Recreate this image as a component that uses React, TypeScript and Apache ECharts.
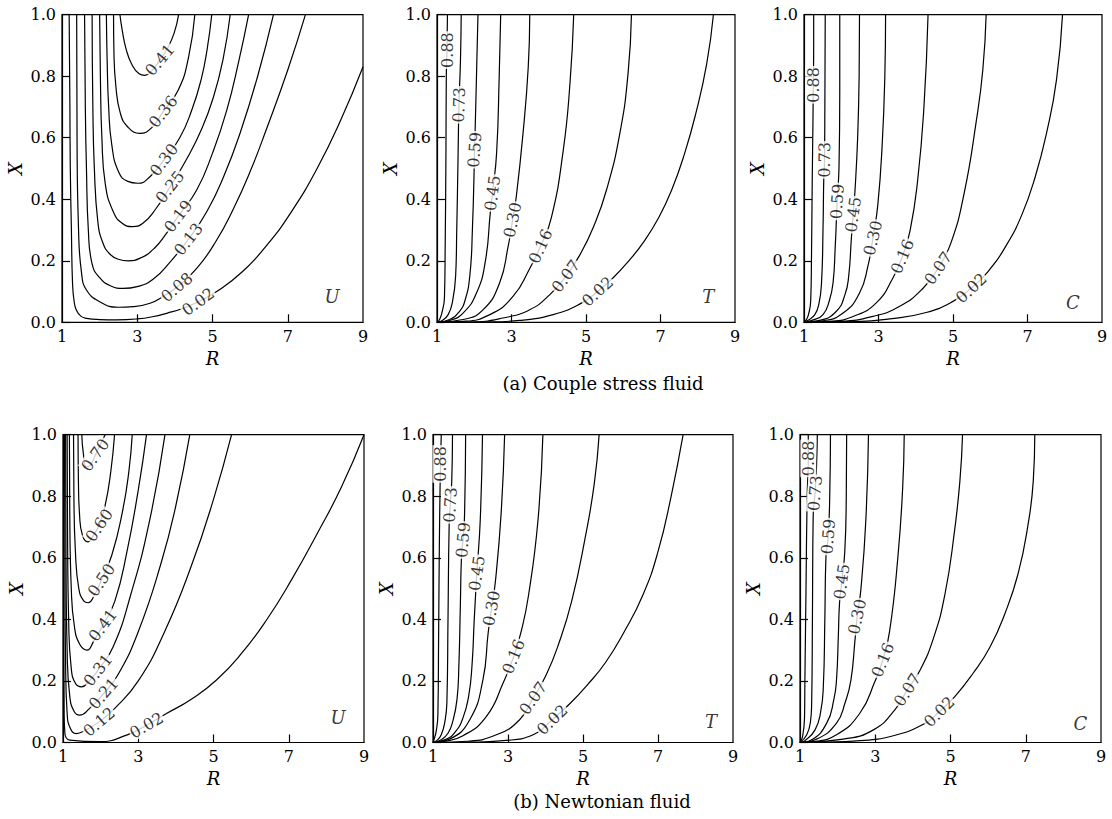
import React, { useEffect, useRef } from "react";
import * as echarts from "echarts";

const FONT = '"DejaVu Serif", "Liberation Serif", serif';

const xTickValues = [1, 3, 5, 7, 9];
const xInnerTicks = [3, 5, 7];
const yTickInterval = 0.2;

// ---------- (a) Couple stress fluid : U ----------
const aULevels = ["0.41", "0.36", "0.30", "0.25", "0.19", "0.13", "0.08", "0.02"];
const aUCurves: number[][][] = [
  [[2.54, 1.0], [2.6, 0.95], [2.7, 0.89], [2.85, 0.84], [3.05, 0.808], [3.2, 0.803], [3.4, 0.82], [3.6, 0.853], [3.8, 0.89], [3.98, 0.94], [4.1, 1.0]],
  [[2.37, 1.0], [2.38, 0.88], [2.43, 0.77], [2.55, 0.68], [2.75, 0.635], [3.07, 0.614], [3.38, 0.632], [3.69, 0.685], [4.09, 0.755], [4.36, 0.86], [4.53, 1.0]],
  [[2.18, 1.0], [2.2, 0.85], [2.24, 0.7], [2.32, 0.58], [2.5, 0.49], [2.75, 0.458], [3.02, 0.452], [3.35, 0.475], [3.71, 0.528], [4.13, 0.6], [4.45, 0.69], [4.7, 0.79], [4.86, 0.89], [4.98, 1.0]],
  [[2.0, 1.0], [2.02, 0.8], [2.06, 0.6], [2.15, 0.45], [2.36, 0.36], [2.6, 0.322], [2.87, 0.311], [3.15, 0.322], [3.5, 0.37], [3.87, 0.44], [4.31, 0.53], [4.7, 0.625], [5.02, 0.73], [5.28, 0.855], [5.47, 1.0]],
  [[1.8, 1.0], [1.82, 0.7], [1.86, 0.5], [1.95, 0.33], [2.08, 0.26], [2.27, 0.222], [2.5, 0.205], [2.76, 0.2], [3.1, 0.21], [3.45, 0.24], [3.78, 0.29], [4.09, 0.345], [4.58, 0.43], [5.0, 0.55], [5.38, 0.69], [5.7, 0.85], [5.96, 1.0]],
  [[1.6, 1.0], [1.62, 0.7], [1.65, 0.5], [1.7, 0.3], [1.8, 0.19], [2.0, 0.145], [2.3, 0.118], [2.63, 0.11], [3.0, 0.116], [3.42, 0.14], [3.9, 0.2], [4.36, 0.27], [4.85, 0.36], [5.3, 0.475], [5.73, 0.614], [6.2, 0.8], [6.62, 1.0]],
  [[1.39, 1.0], [1.4, 0.6], [1.44, 0.3], [1.52, 0.16], [1.65, 0.105], [2.0, 0.067], [2.49, 0.049], [2.9, 0.051], [3.34, 0.062], [3.7, 0.085], [4.05, 0.114], [4.58, 0.175], [5.1, 0.265], [5.56, 0.37], [6.0, 0.49], [6.44, 0.63], [7.0, 0.82], [7.47, 1.0]],
  [[1.19, 1.0], [1.21, 0.7], [1.22, 0.506], [1.25, 0.3], [1.28, 0.127], [1.32, 0.07], [1.38, 0.04], [1.5, 0.02], [1.65, 0.013], [2.0, 0.009], [2.45, 0.008], [3.0, 0.011], [3.4, 0.018], [3.8, 0.03], [4.2, 0.045], [4.62, 0.067], [5.11, 0.1], [5.8, 0.165], [6.44, 0.25], [7.1, 0.36], [7.78, 0.5], [8.4, 0.655], [9.0, 0.831]],
];
const aULabelAt = [[3.6, 0.853], [3.69, 0.685], [3.71, 0.528], [3.87, 0.44], [4.09, 0.345], [4.36, 0.27], [4.05, 0.114], [4.62, 0.067]];
const aULabelAngle = [50, 52, 53, 52, 53, 52, 40, 36];

// ---------- (a) Couple stress fluid : T ----------
const aTLevels = ["0.88", "0.73", "0.59", "0.45", "0.30", "0.16", "0.07", "0.02"];
const aTCurves: number[][][] = [
  [[1.0, 0.0], [1.07, 0.009], [1.14, 0.035], [1.2, 0.08], [1.22, 0.25], [1.24, 0.55], [1.25, 0.8], [1.27, 0.9], [1.28, 1.0]],
  [[1.0, 0.0], [1.12, 0.004], [1.3, 0.025], [1.42, 0.07], [1.5, 0.15], [1.53, 0.3], [1.56, 0.5], [1.59, 0.707], [1.63, 0.85], [1.65, 1.0]],
  [[1.0, 0.0], [1.34, 0.009], [1.6, 0.035], [1.75, 0.07], [1.88, 0.15], [1.95, 0.3], [2.01, 0.561], [2.06, 0.8], [2.1, 1.0]],
  [[1.0, 0.0], [1.34, 0.006], [1.7, 0.03], [2.06, 0.095], [2.3, 0.2], [2.43, 0.355], [2.49, 0.42], [2.6, 0.55], [2.67, 0.8], [2.71, 1.0]],
  [[1.0, 0.0], [1.7, 0.009], [2.24, 0.041], [2.68, 0.128], [2.91, 0.247], [3.03, 0.333], [3.13, 0.41], [3.31, 0.615], [3.45, 0.831], [3.49, 1.0]],
  [[1.0, 0.0], [1.7, 0.003], [2.42, 0.025], [3.04, 0.084], [3.49, 0.175], [3.78, 0.247], [4.07, 0.34], [4.39, 0.56], [4.57, 0.777], [4.67, 1.0]],
  [[1.0, 0.0], [1.88, 0.001], [2.77, 0.014], [3.49, 0.041], [4.03, 0.09], [4.46, 0.15], [4.84, 0.22], [5.2, 0.31], [5.55, 0.43], [5.91, 0.615], [6.13, 0.81], [6.22, 1.0]],
  [[1.0, 0.0], [2.33, 0.001], [3.22, 0.006], [4.12, 0.025], [4.84, 0.06], [5.31, 0.1], [5.73, 0.145], [6.15, 0.2], [6.54, 0.26], [6.95, 0.34], [7.3, 0.43], [7.65, 0.55], [7.95, 0.68], [8.24, 0.84], [8.42, 1.0]],
];
const aTLabelAt = [[1.27, 0.885], [1.59, 0.707], [2.01, 0.561], [2.49, 0.42], [3.03, 0.333], [3.78, 0.247], [4.46, 0.15], [5.31, 0.1]];
const aTLabelAngle = [90, 88, 86, 82, 78, 66, 53, 42];

// ---------- (a) Couple stress fluid : C ----------
const aCLevels = ["0.88", "0.73", "0.59", "0.45", "0.30", "0.16", "0.07", "0.02"];
const aCCurves: number[][][] = [
  [[1.0, 0.0], [1.06, 0.008], [1.12, 0.025], [1.18, 0.07], [1.2, 0.2], [1.22, 0.45], [1.24, 0.65], [1.25, 0.772], [1.26, 0.9], [1.26, 1.0]],
  [[1.0, 0.0], [1.1, 0.006], [1.29, 0.025], [1.4, 0.06], [1.47, 0.128], [1.51, 0.3], [1.53, 0.463], [1.55, 0.528], [1.56, 0.7], [1.57, 1.0]],
  [[1.0, 0.0], [1.25, 0.008], [1.51, 0.025], [1.68, 0.07], [1.78, 0.128], [1.84, 0.25], [1.87, 0.333], [1.89, 0.393], [1.94, 0.506], [1.96, 0.75], [1.96, 1.0]],
  [[1.0, 0.0], [1.42, 0.006], [1.87, 0.036], [2.1, 0.09], [2.2, 0.15], [2.27, 0.27], [2.32, 0.35], [2.37, 0.43], [2.44, 0.6], [2.48, 0.8], [2.49, 1.0]],
  [[1.0, 0.0], [1.51, 0.005], [2.05, 0.03], [2.49, 0.095], [2.72, 0.185], [2.85, 0.274], [2.98, 0.38], [3.1, 0.58], [3.17, 0.8], [3.19, 1.0]],
  [[1.0, 0.0], [1.69, 0.003], [2.32, 0.019], [2.94, 0.063], [3.39, 0.145], [3.64, 0.214], [3.85, 0.3], [4.05, 0.46], [4.22, 0.7], [4.33, 1.0]],
  [[1.0, 0.0], [1.96, 0.003], [2.85, 0.019], [3.57, 0.052], [4.19, 0.11], [4.6, 0.176], [4.95, 0.26], [5.3, 0.42], [5.62, 0.65], [5.8, 0.82], [5.89, 1.0]],
  [[1.0, 0.0], [2.4, 0.002], [3.3, 0.011], [4.28, 0.032], [5.0, 0.068], [5.49, 0.111], [5.94, 0.165], [6.43, 0.25], [6.85, 0.35], [7.2, 0.47], [7.52, 0.62], [7.78, 0.79], [7.94, 1.0]],
];
const aCLabelAt = [[1.25, 0.772], [1.55, 0.528], [1.89, 0.393], [2.32, 0.35], [2.85, 0.274], [3.64, 0.214], [4.6, 0.176], [5.49, 0.111]];
const aCLabelAngle = [90, 89, 86, 82, 76, 67, 55, 43];

// ---------- (b) Newtonian fluid : U ----------
const bULevels = ["0.70", "0.60", "0.50", "0.41", "0.31", "0.21", "0.12", "0.02"];
const bUCurves: number[][][] = [
  [[1.5, 1.0], [1.54, 0.94], [1.62, 0.895], [1.72, 0.9], [1.86, 0.934], [2.02, 0.975], [2.12, 1.0]],
  [[1.4, 1.0], [1.41, 0.85], [1.44, 0.74], [1.52, 0.672], [1.66, 0.652], [1.8, 0.672], [1.96, 0.706], [2.12, 0.77], [2.27, 0.88], [2.37, 1.0]],
  [[1.28, 1.0], [1.29, 0.8], [1.33, 0.62], [1.42, 0.5], [1.55, 0.46], [1.67, 0.454], [1.82, 0.475], [2.02, 0.528], [2.3, 0.61], [2.58, 0.75], [2.75, 0.88], [2.84, 1.0]],
  [[1.17, 1.0], [1.18, 0.75], [1.22, 0.5], [1.3, 0.38], [1.44, 0.32], [1.64, 0.3], [1.82, 0.33], [2.06, 0.381], [2.38, 0.46], [2.7, 0.62], [3.0, 0.82], [3.22, 1.0]],
  [[1.11, 1.0], [1.12, 0.7], [1.15, 0.4], [1.22, 0.24], [1.34, 0.19], [1.49, 0.181], [1.7, 0.2], [1.93, 0.235], [2.33, 0.31], [2.8, 0.48], [3.3, 0.72], [3.71, 1.0]],
  [[1.07, 1.0], [1.08, 0.6], [1.11, 0.3], [1.18, 0.15], [1.3, 0.1], [1.44, 0.089], [1.7, 0.11], [2.08, 0.159], [2.46, 0.22], [3.0, 0.36], [3.6, 0.58], [4.0, 0.77], [4.37, 1.0]],
  [[1.04, 1.0], [1.05, 0.6], [1.07, 0.25], [1.11, 0.094], [1.2, 0.045], [1.35, 0.029], [1.6, 0.04], [1.96, 0.067], [2.37, 0.11], [3.0, 0.2], [3.7, 0.36], [4.4, 0.57], [5.0, 0.79], [5.48, 1.0]],
  [[1.015, 1.0], [1.02, 0.5], [1.03, 0.1], [1.05, 0.03], [1.18, 0.008], [1.98, 0.003], [2.69, 0.024], [3.22, 0.056], [3.75, 0.094], [4.4, 0.14], [5.08, 0.203], [5.75, 0.29], [6.41, 0.398], [7.08, 0.53], [7.74, 0.675], [8.4, 0.83], [9.0, 1.0]],
];
const bULabelAt = [[1.86, 0.934], [1.96, 0.706], [2.02, 0.528], [2.06, 0.381], [1.93, 0.235], [2.08, 0.159], [1.96, 0.067], [3.22, 0.056]];
const bULabelAngle = [54, 56, 56, 53, 52, 49, 40, 30];

// ---------- (b) Newtonian fluid : T ----------
const bTLevels = ["0.88", "0.73", "0.59", "0.45", "0.30", "0.16", "0.07", "0.02"];
const bTCurves: number[][][] = [
  [[1.0, 0.0], [1.04, 0.014], [1.09, 0.04], [1.13, 0.09], [1.15, 0.35], [1.17, 0.65], [1.19, 0.84], [1.2, 0.905], [1.22, 1.0]],
  [[1.0, 0.0], [1.1, 0.006], [1.22, 0.025], [1.32, 0.07], [1.37, 0.128], [1.4, 0.4], [1.43, 0.7], [1.46, 0.772], [1.5, 0.85], [1.52, 1.0]],
  [[1.0, 0.0], [1.22, 0.009], [1.4, 0.03], [1.53, 0.07], [1.64, 0.14], [1.69, 0.25], [1.73, 0.45], [1.76, 0.604], [1.8, 0.658], [1.84, 0.734], [1.87, 1.0]],
  [[1.0, 0.0], [1.36, 0.011], [1.6, 0.035], [1.8, 0.08], [1.95, 0.15], [2.04, 0.25], [2.1, 0.4], [2.17, 0.55], [2.26, 0.723], [2.32, 1.0]],
  [[1.0, 0.0], [1.44, 0.011], [1.98, 0.074], [2.33, 0.203], [2.47, 0.355], [2.56, 0.436], [2.67, 0.53], [2.82, 0.75], [2.91, 1.0]],
  [[1.0, 0.0], [1.27, 0.003], [1.8, 0.022], [2.42, 0.084], [2.87, 0.193], [3.15, 0.279], [3.35, 0.36], [3.55, 0.48], [3.8, 0.723], [3.93, 1.0]],
  [[1.0, 0.0], [1.89, 0.004], [2.69, 0.025], [3.31, 0.074], [3.67, 0.144], [4.02, 0.22], [4.35, 0.32], [4.7, 0.46], [5.05, 0.66], [5.3, 0.84], [5.43, 1.0]],
  [[1.0, 0.0], [1.98, 0.001], [2.87, 0.006], [3.67, 0.025], [4.18, 0.074], [4.64, 0.125], [5.1, 0.185], [5.6, 0.26], [6.1, 0.36], [6.6, 0.48], [7.0, 0.62], [7.35, 0.8], [7.67, 1.0]],
];
const bTLabelAt = [[1.2, 0.905], [1.46, 0.772], [1.8, 0.658], [2.17, 0.55], [2.56, 0.436], [3.15, 0.279], [3.67, 0.144], [4.18, 0.074]];
const bTLabelAngle = [90, 86, 85, 82, 80, 68, 55, 44];

// ---------- (b) Newtonian fluid : C ----------
const bCLevels = ["0.88", "0.73", "0.59", "0.45", "0.30", "0.16", "0.07", "0.02"];
const bCCurves: number[][][] = [
  [[1.0, 0.0], [1.07, 0.02], [1.12, 0.08], [1.13, 0.2], [1.16, 0.5], [1.19, 0.8], [1.22, 0.923], [1.22, 1.0]],
  [[1.0, 0.0], [1.18, 0.025], [1.28, 0.07], [1.31, 0.128], [1.33, 0.4], [1.35, 0.734], [1.4, 0.81], [1.44, 0.9], [1.46, 1.0]],
  [[1.0, 0.0], [1.13, 0.006], [1.4, 0.041], [1.55, 0.1], [1.62, 0.182], [1.66, 0.4], [1.69, 0.604], [1.75, 0.669], [1.79, 0.8], [1.81, 1.0]],
  [[1.0, 0.0], [1.31, 0.009], [1.71, 0.063], [1.9, 0.14], [1.97, 0.203], [2.02, 0.35], [2.05, 0.452], [2.11, 0.523], [2.19, 0.62], [2.23, 0.8], [2.24, 1.0]],
  [[1.0, 0.0], [1.44, 0.011], [1.97, 0.063], [2.2, 0.13], [2.35, 0.2], [2.46, 0.33], [2.52, 0.409], [2.62, 0.5], [2.75, 0.723], [2.82, 1.0]],
  [[1.0, 0.0], [1.35, 0.003], [1.97, 0.025], [2.59, 0.095], [2.99, 0.198], [3.2, 0.268], [3.38, 0.36], [3.6, 0.6], [3.73, 0.831], [3.77, 1.0]],
  [[1.0, 0.0], [2.15, 0.011], [2.95, 0.041], [3.52, 0.106], [3.85, 0.171], [4.19, 0.235], [4.55, 0.34], [4.85, 0.48], [5.1, 0.68], [5.25, 0.85], [5.32, 1.0]],
  [[1.0, 0.0], [1.62, 0.001], [2.51, 0.005], [3.48, 0.022], [4.32, 0.062], [4.7, 0.1], [5.12, 0.15], [5.6, 0.225], [6.05, 0.31], [6.45, 0.42], [6.8, 0.55], [7.05, 0.7], [7.2, 0.85], [7.24, 1.0]],
];
const bCLabelAt = [[1.22, 0.923], [1.4, 0.81], [1.75, 0.669], [2.11, 0.523], [2.52, 0.409], [3.2, 0.268], [3.85, 0.171], [4.7, 0.1]];
const bCLabelAngle = [90, 85, 85, 82, 78, 68, 57, 45];

// panel letters and where they sit (data space)
const panelLetters = ["U", "T", "C", "U", "T", "C"];
const letterAt = [[8.18, 0.083], [8.28, 0.083], [8.22, 0.065], [8.31, 0.08], [8.41, 0.067], [8.45, 0.063]];

const captions = ["(a) Couple stress fluid", "(b) Newtonian fluid"];

// layout (pixels)
const gridRects = [
  { left: 62, top: 14.7, width: 301, height: 307.6 },
  { left: 437, top: 14.7, width: 298, height: 307.6 },
  { left: 804, top: 14.7, width: 298, height: 307.6 },
  { left: 63, top: 434.7, width: 301, height: 307.8 },
  { left: 433, top: 434.7, width: 300, height: 307.8 },
  { left: 800, top: 434.7, width: 301, height: 307.8 },
];
const captionPos = [
  [603, 383],
  [602, 801],
];

const panels = [
  { levels: aULevels, curves: aUCurves, labelAt: aULabelAt, angles: aULabelAngle },
  { levels: aTLevels, curves: aTCurves, labelAt: aTLabelAt, angles: aTLabelAngle },
  { levels: aCLevels, curves: aCCurves, labelAt: aCLabelAt, angles: aCLabelAngle },
  { levels: bULevels, curves: bUCurves, labelAt: bULabelAt, angles: bULabelAngle },
  { levels: bTLevels, curves: bTCurves, labelAt: bTLabelAt, angles: bTLabelAngle },
  { levels: bCLevels, curves: bCCurves, labelAt: bCLabelAt, angles: bCLabelAngle },
];

function buildOption() {
  const grid = gridRects.map((g) => ({
    ...g,
    show: true,
    borderColor: "#000",
    borderWidth: 1.2,
    backgroundColor: "#fff",
    containLabel: false,
    outerBoundsMode: "none",
  }));
  const axisLineStyle = { color: "#000", width: 1.2 };
  const xAxis = gridRects.map((_, i) => ({
    gridIndex: i,
    type: "value",
    min: 1,
    max: 9,
    name: "R",
    nameLocation: "middle",
    nameGap: 27,
    nameTextStyle: { fontFamily: FONT, fontStyle: "italic", fontSize: 18, color: "#000" },
    axisLine: { show: true, onZero: false, lineStyle: axisLineStyle },
    axisTick: { show: true, inside: true, length: 8, customValues: xInnerTicks, lineStyle: axisLineStyle },
    axisLabel: {
      customValues: xTickValues,
      fontFamily: FONT,
      fontSize: 16,
      color: "#000",
      margin: 6,
      formatter: (v: number) => String(Math.round(v)),
    },
    splitLine: { show: false },
  }));
  const yAxis = gridRects.map((_, i) => ({
    gridIndex: i,
    type: "value",
    min: 0,
    max: 1,
    interval: yTickInterval,
    name: "X",
    nameLocation: "middle",
    nameGap: 38,
    nameRotate: 90,
    nameTextStyle: { fontFamily: FONT, fontStyle: "italic", fontSize: 18, color: "#000" },
    axisLine: { show: true, onZero: false, lineStyle: axisLineStyle },
    axisTick: { show: true, inside: true, length: 8, lineStyle: axisLineStyle },
    axisLabel: {
      fontFamily: FONT,
      fontSize: 16,
      color: "#000",
      margin: 6,
      formatter: (v: number) => v.toFixed(1),
    },
    splitLine: { show: false },
  }));

  const series: any[] = [];
  panels.forEach((p, i) => {
    p.curves.forEach((c, j) => {
      series.push({
        type: "line",
        name: `p${i}-${p.levels[j]}`,
        xAxisIndex: i,
        yAxisIndex: i,
        data: c,
        showSymbol: false,
        symbol: "none",
        smooth: 0.5,
        silent: true,
        z: 2,
        lineStyle: { color: "#000", width: 1.2 },
      });
    });
    series.push({
      type: "scatter",
      xAxisIndex: i,
      yAxisIndex: i,
      symbolSize: 1,
      silent: true,
      z: 5,
      itemStyle: { color: "rgba(0,0,0,0)" },
      data: p.levels.map((lv, j) => ({
        name: lv,
        value: p.labelAt[j],
        label: { rotate: p.angles[j] },
      })),
      label: {
        show: true,
        position: "inside",
        formatter: "{b}",
        fontFamily: FONT,
        fontSize: 16,
        color: "#000",
        backgroundColor: "#fff",
        padding: [0, 1],
      },
    });
    series.push({
      type: "scatter",
      xAxisIndex: i,
      yAxisIndex: i,
      symbolSize: 1,
      silent: true,
      z: 5,
      itemStyle: { color: "rgba(0,0,0,0)" },
      data: [{ name: panelLetters[i], value: letterAt[i] }],
      label: {
        show: true,
        position: "inside",
        formatter: "{b}",
        fontFamily: FONT,
        fontStyle: "italic",
        fontSize: 18,
        color: "#000",
      },
    });
  });

  const graphic = captions.map((t, k) => ({
    type: "text",
    x: captionPos[k][0],
    y: captionPos[k][1],
    style: {
      text: t,
      fontFamily: FONT,
      fontSize: 18,
      fill: "#000",
      textAlign: "center",
      textVerticalAlign: "middle",
    },
  }));

  return {
    animation: false,
    backgroundColor: "#fff",
    grid,
    xAxis,
    yAxis,
    series,
    graphic,
  };
}

export default function App() {
  const ref = useRef<HTMLDivElement>(null);
  useEffect(() => {
    if (!ref.current) return;
    const chart = echarts.init(ref.current, undefined, { renderer: "svg" });
    chart.setOption(buildOption() as any);
    return () => chart.dispose();
  }, []);
  return (
    <div
      ref={ref}
      style={{ position: "absolute", left: 0, top: 0, width: 1112, height: 819, background: "#fff" }}
    />
  );
}
